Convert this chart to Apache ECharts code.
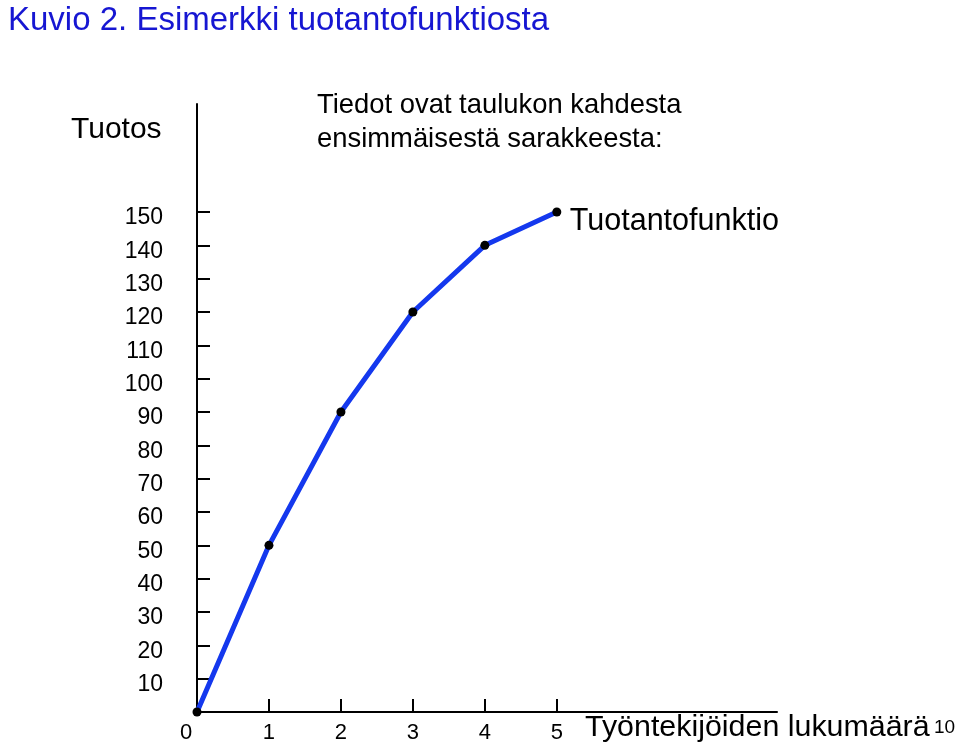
<!DOCTYPE html>
<html>
<head>
<meta charset="utf-8">
<script src="https://cdn.jsdelivr.net/npm/echarts@6/dist/echarts.min.js"></script>
<style>
html,body{margin:0;padding:0;background:#fff;}
#chart{width:959px;height:747px;}
</style>
</head>
<body>
<div id="chart"></div>
<script>
// Data
const workers = [0, 1, 2, 3, 4, 5];
const output = [0, 50, 90, 120, 140, 150];
const yTicks = [10, 20, 30, 40, 50, 60, 70, 80, 90, 100, 110, 120, 130, 140, 150];
const xTicks = [1, 2, 3, 4, 5];
const xLabels = [0, 1, 2, 3, 4, 5];
const titleText = 'Kuvio 2. Esimerkki tuotantofunktiosta';
const yName = 'Tuotos';
const xName = 'Työntekijöiden lukumäärä';
const noteText = 'Tiedot ovat taulukon kahdesta\nensimmäisestä sarakkeesta:';
const seriesName = 'Tuotantofunktio';
const pageNo = '10';

const FONT = '"Liberation Sans", Arial, sans-serif';
const chart = echarts.init(document.getElementById('chart'));
chart.setOption({
  backgroundColor: '#ffffff',
  animation: false,
  title: [
    { text: titleText, left: 3, top: -1, textStyle: { fontFamily: FONT, fontSize: 33, fontWeight: 'normal', color: '#1616d2' } },
    { text: yName, left: 66, top: 110, textStyle: { fontFamily: FONT, fontSize: 30, fontWeight: 'normal', color: '#000' } },
    { text: noteText, left: 312, top: 83, textStyle: { fontFamily: FONT, fontSize: 27.4, lineHeight: 34, fontWeight: 'normal', color: '#000' } },
    { text: xName, left: 580, top: 708, textStyle: { fontFamily: FONT, fontSize: 30.4, fontWeight: 'normal', color: '#000' } },
    { text: pageNo, left: 929, top: 713, textStyle: { fontFamily: FONT, fontSize: 19, fontWeight: 'normal', color: '#000' } }
  ],
  grid: { left: 197, right: 182, top: 104, bottom: 35, containLabel: false },
  xAxis: {
    type: 'value', min: 0, max: 8.06, interval: 1,
    splitLine: { show: false },
    axisLine: { show: true, onZero: false, lineStyle: { color: '#000', width: 2 } },
    axisTick: { show: true, inside: true, length: 13, customValues: xTicks, lineStyle: { color: '#000', width: 2 } },
    axisLabel: {
      show: true, customValues: xLabels, margin: 10,
      fontFamily: FONT, fontSize: 22, color: '#000',
      formatter: function (v) { return v === 0 ? '{z|0}' : String(v); },
      rich: { z: { fontFamily: FONT, fontSize: 22, color: '#000', padding: [0, 22, 0, 0] } }
    }
  },
  yAxis: {
    type: 'value', min: 0, max: 182.4, interval: 10,
    splitLine: { show: false },
    axisLine: { show: true, onZero: false, lineStyle: { color: '#000', width: 2 } },
    axisTick: { show: true, inside: true, length: 13, customValues: yTicks, lineStyle: { color: '#000', width: 2 } },
    axisLabel: {
      show: true, customValues: yTicks, margin: 34,
      fontFamily: FONT, fontSize: 23, color: '#000',
      formatter: function (v) { return '{a|' + v + '}'; },
      rich: { a: { fontFamily: FONT, fontSize: 23, color: '#000', padding: [12, 0, 0, 0] } }
    }
  },
  series: [{
    name: seriesName,
    type: 'line',
    data: workers.map((x, i) => [x, output[i]]),
    symbol: 'circle',
    symbolSize: 9,
    itemStyle: { color: '#000' },
    lineStyle: { color: '#1438ee', width: 5 },
    z: 3,
    endLabel: {
      show: true, formatter: seriesName, distance: 13, offset: [0, 10],
      fontFamily: FONT, fontSize: 30.5, color: '#000'
    }
  }]
});
</script>
</body>
</html>
